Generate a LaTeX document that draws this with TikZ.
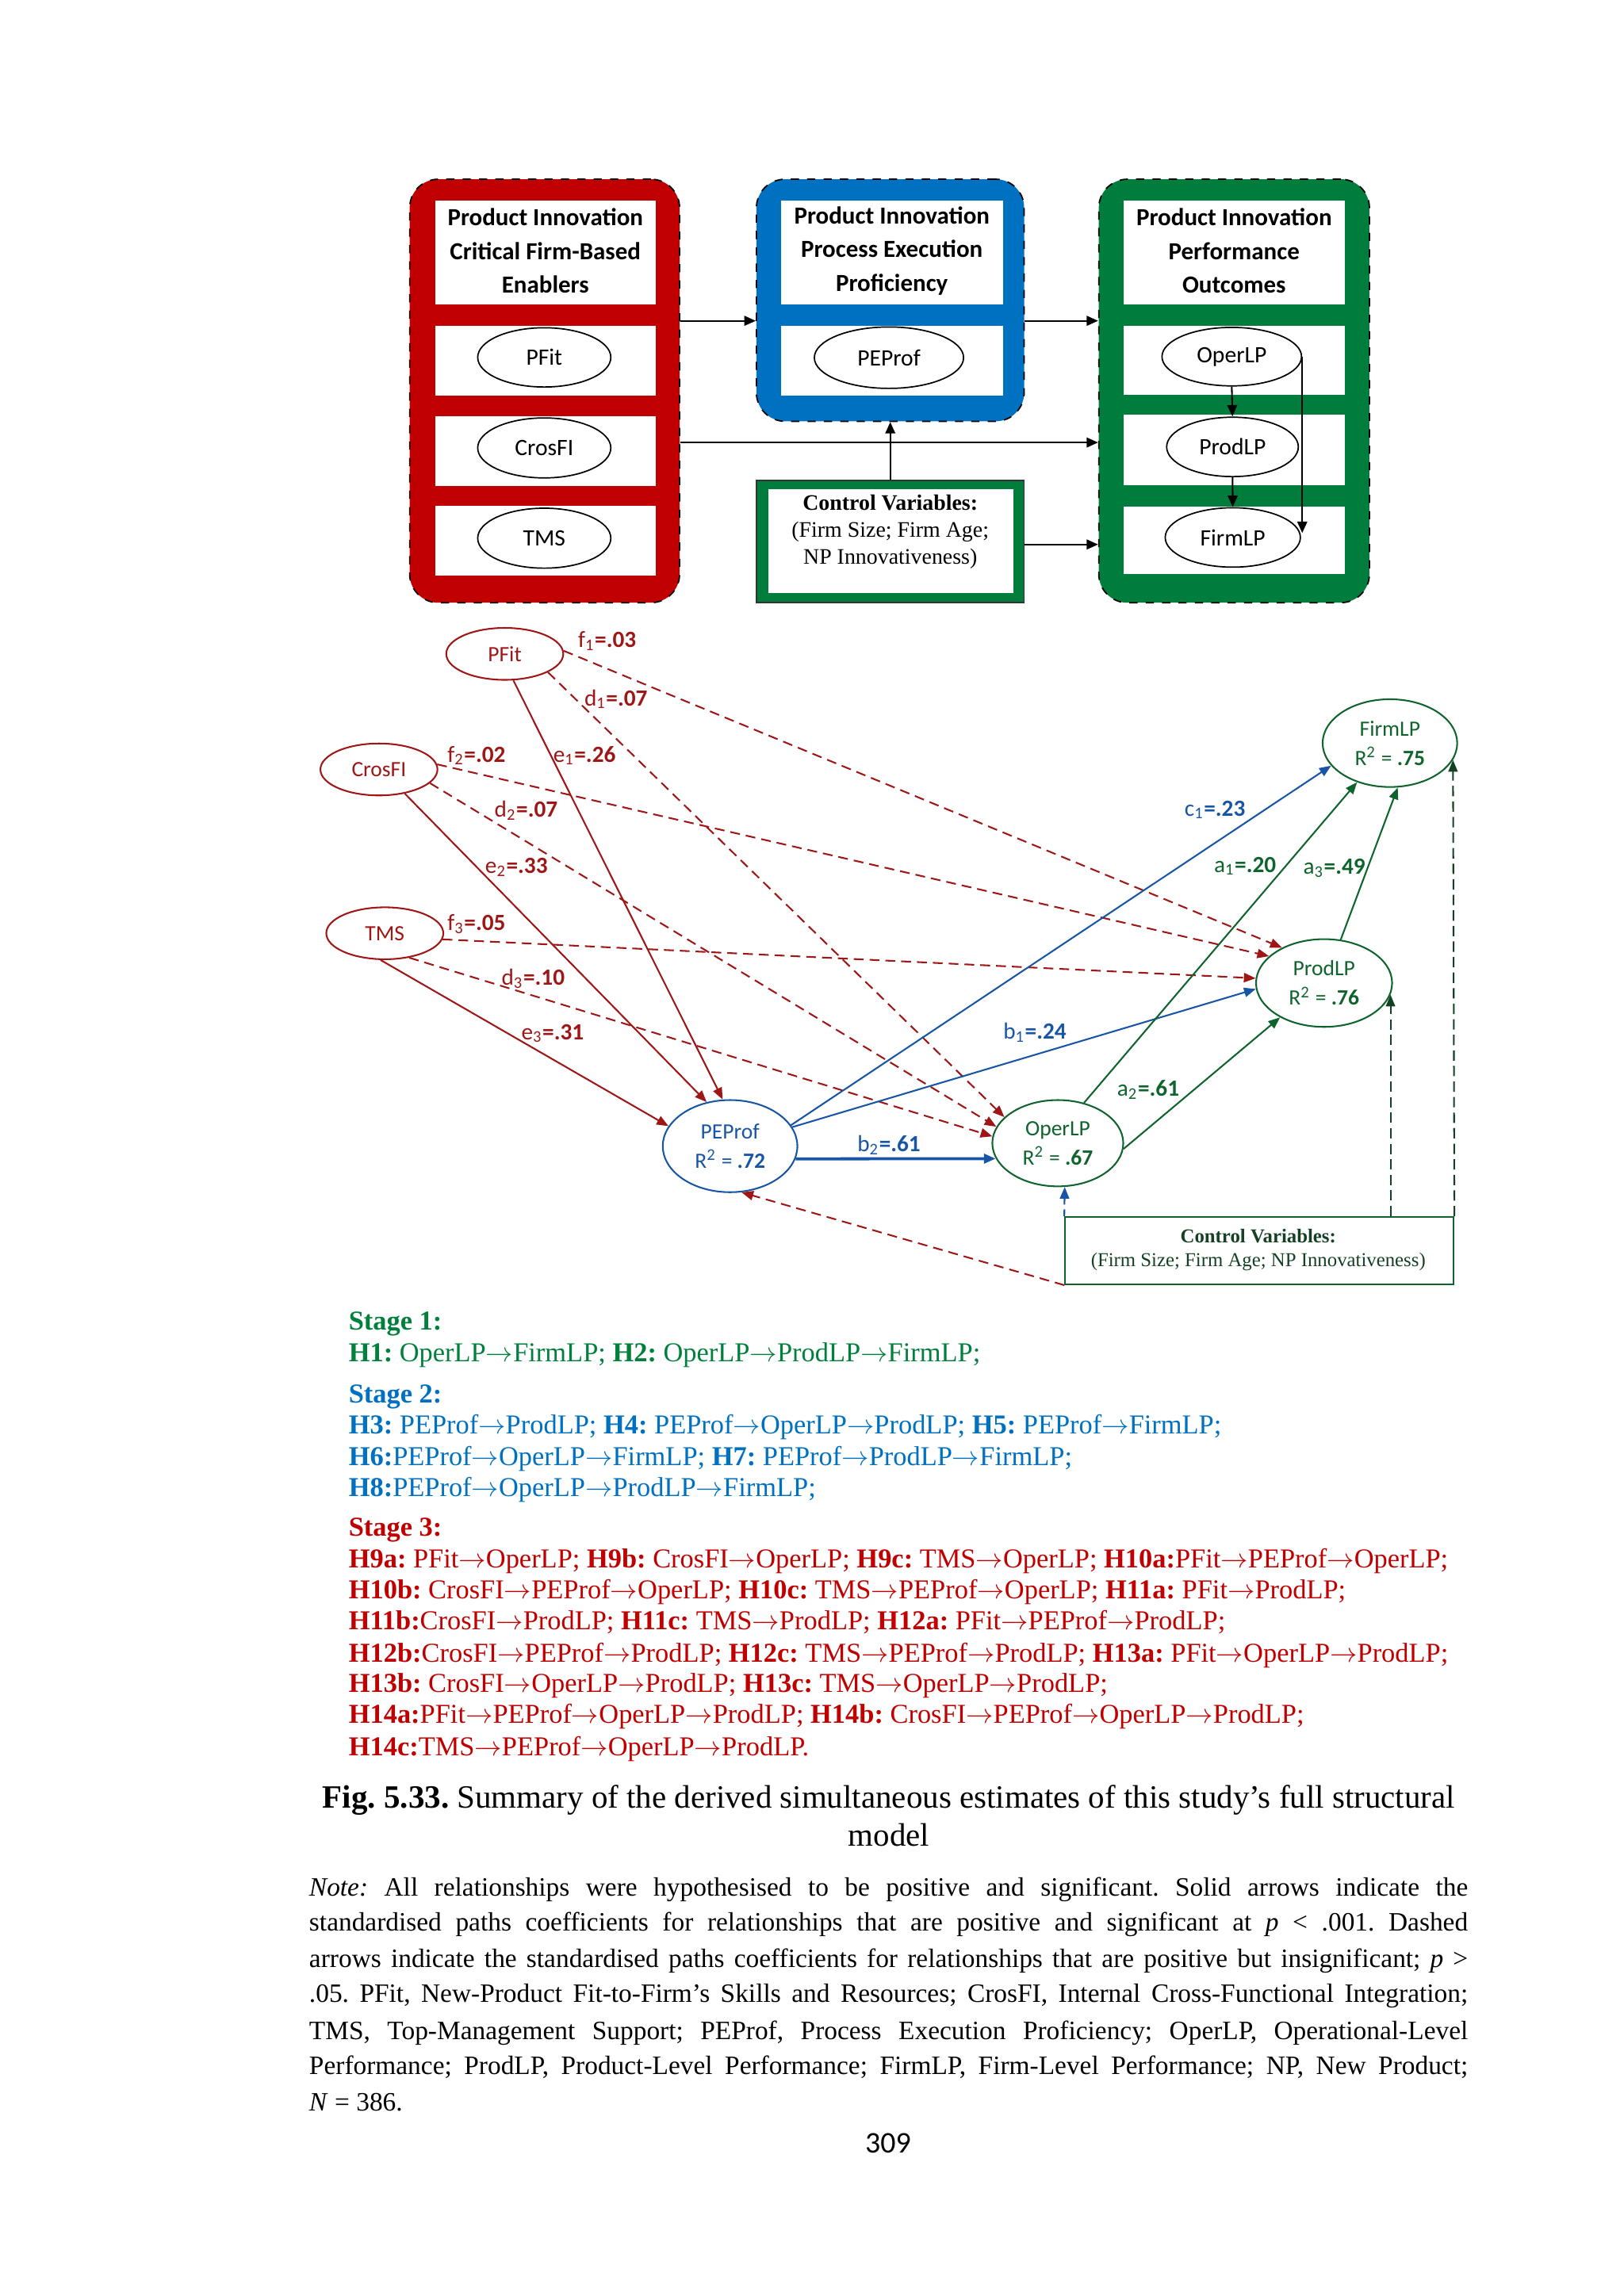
\documentclass[tikz,border=0pt]{standalone}
\usepackage{fontspec}
\setmainfont{Liberation Serif}
\newfontfamily\calib{Carlito}
\usetikzlibrary{arrows.meta,shapes.geometric,calc}
\newlength\dunit \setlength\dunit{0.536pt}
\definecolor{boxred}{RGB}{192,0,0}
\definecolor{boxblue}{RGB}{0,112,192}
\definecolor{boxgreen}{RGB}{0,125,60}
\definecolor{semred}{RGB}{158,22,22}
\definecolor{semblue}{RGB}{25,85,165}
\definecolor{semgreen}{RGB}{15,100,45}
\definecolor{ctrlgreen}{RGB}{20,65,35}
\definecolor{txtgreen}{RGB}{0,128,60}
\definecolor{txtblue}{RGB}{0,112,192}
\definecolor{txtred}{RGB}{192,0,0}
\newcommand\hypfont{\fontsize{10}{12}\selectfont}
\newcommand\notefont{\fontsize{9.7}{12}\selectfont}
\newcommand\ar{$\rightarrow$}
\frenchspacing
\begin{document}
\begin{tikzpicture}[x=0.536pt,y=-0.536pt,
  stagebox/.style={draw=black,dashed,line width=0.5pt,rounded corners=10.5pt,inner sep=0},
  panel/.style={fill=white,draw=none,inner sep=0},
  hdr/.style={align=center,font=\calib\bfseries\fontsize{9}{12.3}\selectfont},
  topell/.style={ellipse,draw=black,line width=0.5pt,fill=white,inner sep=0,font=\calib\fontsize{8.6}{10}\selectfont},
  toparrow/.style={-{Triangle[length=4.2pt,width=3.6pt]},line width=0.6pt,black},
  semell/.style={ellipse,line width=0.6pt,inner sep=0,align=center,font=\calib\fontsize{8}{10.7}\selectfont},
  semtip/.style={-{Triangle[length=4.3pt,width=3.4pt]}},
  semsolid/.style={semtip,line width=0.6pt},
  semdash/.style={semtip,line width=0.6pt,semred,dash pattern=on 3.6pt off 2.2pt},
  ctrldash/.style={semtip,line width=0.6pt,ctrlgreen,dash pattern=on 3.8pt off 1.9pt},
  lbl/.style={inner sep=0,font=\calib\fontsize{8.5}{10}\selectfont},
  hyp/.style={anchor=base west,inner sep=0,font=\hypfont},
  noteline/.style={anchor=base west,inner sep=0,font=\notefont}
]
\useasboundingbox (0,0) rectangle (1110,1569.6);

% ---------------- top conceptual model ----------------
\node[stagebox,fill=boxred,minimum width=184.5\dunit,minimum height=289.5\dunit] (redbox) at (372.25,267.25) {};
\node[stagebox,fill=boxblue,minimum width=183\dunit,minimum height=165.5\dunit] (bluebox) at (608.5,205.25) {};
\node[stagebox,fill=boxgreen,minimum width=185\dunit,minimum height=289.5\dunit] (greenbox) at (843.5,267.25) {};

% red panels
\node[panel,minimum width=150.5\dunit,minimum height=71\dunit] (rhead) at (372.75,172.5) {};
\node[hdr] (rheadt) at (372.75,171.5) {Product Innovation\\Critical Firm-Based\\Enablers};
\node[panel,minimum width=150.5\dunit,minimum height=47.5\dunit] (rp1) at (372.75,246.75) {};
\node[panel,minimum width=150.5\dunit,minimum height=47.5\dunit] (rp2) at (372.75,308.25) {};
\node[panel,minimum width=150.5\dunit,minimum height=47.5\dunit] (rp3) at (372.75,369.75) {};
\node[topell,minimum width=91\dunit,minimum height=40.5\dunit] (tPFit) at (372,244.3) {PFit};
\node[topell,minimum width=91\dunit,minimum height=41\dunit] (tCros) at (372,306.2) {CrosFI};
\node[topell,minimum width=91\dunit,minimum height=41\dunit] (tTMS) at (372,367.9) {TMS};

% blue panels
\node[panel,minimum width=151.8\dunit,minimum height=71\dunit] (bhead) at (609.6,172.5) {};
\node[hdr] (bheadt) at (609.6,171.5) {Product Innovation\\Process Execution\\Proficiency};
\node[panel,minimum width=151.8\dunit,minimum height=47.6\dunit] (bp1) at (609.6,246.8) {};
\node[topell,minimum width=102\dunit,minimum height=42\dunit] (tPE) at (607.6,244.5) {PEProf};

% green panels
\node[panel,minimum width=151\dunit,minimum height=71\dunit] (ghead) at (843.5,172.5) {};
\node[hdr] (gheadt) at (843.5,171.5) {Product Innovation\\Performance\\Outcomes};
\node[panel,minimum width=151\dunit,minimum height=47\dunit] (gp1) at (843.5,246.5) {};
\node[panel,minimum width=151\dunit,minimum height=48\dunit] (gp2) at (843.5,307.7) {};
\node[panel,minimum width=151\dunit,minimum height=46\dunit] (gp3) at (843.5,369.5) {};
\node[topell,minimum width=95.4\dunit,minimum height=40\dunit] (tOper) at (841.9,243.8) {OperLP};
\node[topell,minimum width=90\dunit,minimum height=40.6\dunit] (tProd) at (842.4,305.5) {ProdLP};
\node[topell,minimum width=92.4\dunit,minimum height=40.6\dunit] (tFirm) at (842.6,367.4) {FirmLP};

% control box (top)
\node[draw=black!80,line width=0.4pt,fill=boxgreen,minimum width=183\dunit,minimum height=83.5\dunit,inner sep=0] (ctrltop) at (608.5,370.25) {};
\node[panel,minimum width=167\dunit,minimum height=71\dunit] (ctrltopin) at (608.9,370.15) {};
\node[align=center,inner sep=0,font=\fontsize{8.1}{9.9}\selectfont] (ctrltopt) at (608.5,363.5) {\textbf{Control Variables:}\\(Firm Size; Firm Age;\\NP Innovativeness)};

% top arrows
\coordinate (ay) at (0,219.3);
\coordinate (cy) at (0,302.5);
\coordinate (ey) at (0,372.2);
\draw[toparrow] (redbox.east |- ay) -- (bluebox.west |- ay);
\draw[toparrow] (bluebox.east |- ay) -- (greenbox.west |- ay);
\draw[toparrow] (redbox.east |- cy) -- (greenbox.west |- cy);
\draw[toparrow] (ctrltop.north) -- (bluebox.south);
\draw[toparrow] (ctrltop.east |- ey) -- (greenbox.west |- ey);
\draw[toparrow] (tOper.south) -- (tProd.north);
\draw[toparrow] (tProd.south) -- (tFirm.north);
\draw[toparrow] (tOper.east) -- ($(tOper.east |- tFirm.east)+(0,-3)$);

% ---------------- structural model ----------------
\node[semell,draw=semred,text=semred,minimum width=80\dunit,minimum height=35.5\dunit] (sPFit) at (345,447) {PFit};
\node[semell,draw=semred,text=semred,minimum width=80\dunit,minimum height=35.5\dunit] (sCros) at (259,526) {CrosFI};
\node[semell,draw=semred,text=semred,minimum width=80\dunit,minimum height=35.5\dunit] (sTMS) at (263,638) {TMS};
\node[semell,draw=semblue,text=semblue,minimum width=92\dunit,minimum height=63\dunit] (sPE) at (499,783.5) {PEProf\\R\textsuperscript{2} = \textbf{.72}};
\node[semell,draw=semgreen,text=semgreen,minimum width=89.5\dunit,minimum height=59\dunit] (sOper) at (723,781.5) {OperLP\\R\textsuperscript{2} = \textbf{.67}};
\node[semell,draw=semgreen,text=semgreen,minimum width=93\dunit,minimum height=60\dunit] (sProd) at (905,672) {ProdLP\\R\textsuperscript{2} = \textbf{.76}};
\node[semell,draw=semgreen,text=semgreen,minimum width=92\dunit,minimum height=60\dunit] (sFirm) at (950,508) {FirmLP\\R\textsuperscript{2} = \textbf{.75}};

\node[draw=semgreen,line width=0.6pt,minimum width=265.5\dunit,minimum height=46\dunit,inner sep=0] (ctrl) at (860.75,855) {};
\node[align=center,inner sep=0,text=ctrlgreen,font=\fontsize{7.2}{8.7}\selectfont] (ctrlt) at (860,854.6) {\textbf{Control Variables:}\\(Firm Size; Firm Age; NP Innovativeness)};

% red paths
\draw[semsolid,semred] (sPFit.-72) -- (sPE.99);
\draw[semsolid,semred] (sCros.-43) -- (sPE.118);
\draw[semsolid,semred] (sTMS.-99) -- (sPE.162);
\draw[semdash] (sPFit.-23) -- (sOper.154);
\draw[semdash] (sCros.-15) -- (sOper.165);
\draw[semdash] (sTMS.-45) -- (sOper.174);
\draw[semdash] (sPFit.3) -- (sProd.140);
\draw[semdash] (sCros.5) -- (sProd.154);
\draw[semdash] (sTMS.-6) -- (sProd.176);
% blue paths
\draw[semsolid,semblue] (sPE.19) -- (sFirm.201);
\draw[semsolid,semblue] (sPE.17) -- (sProd.185);
\draw[semsolid,semblue,line width=1.1pt] (sPE.-11) -- (sOper.-166);
% green paths
\draw[semsolid,semgreen] (sOper.57) -- (sFirm.230);
\draw[semsolid,semgreen] (sOper.-5) -- (sProd.218);
\draw[semsolid,semgreen] (sProd.69) -- (sFirm.-80);
% control paths
\draw[semdash] (ctrl.south west) -- (sPE.-76);
\draw[semtip,line width=0.6pt,semblue,dash pattern=on 2.5pt off 1.8pt] (ctrl.north west) -- (sOper.-81);
\draw[ctrldash] (sProd.-10 |- ctrl.north) -- (sProd.-10);
\draw[ctrldash] (ctrl.north east) -- (sFirm.-15);

% labels
\node[lbl,text=semred] (lf1) at (415,438) {f\textsubscript{1}\textbf{=.03}};
\node[lbl,text=semred] (ld1) at (421,478) {d\textsubscript{1}\textbf{=.07}};
\node[lbl,text=semred] (le1) at (399.5,516.5) {e\textsubscript{1}\textbf{=.26}};
\node[lbl,text=semred] (lf2) at (325.7,516.5) {f\textsubscript{2}\textbf{=.02}};
\node[lbl,text=semred] (ld2) at (359.6,554) {d\textsubscript{2}\textbf{=.07}};
\node[lbl,text=semred] (le2) at (353,593) {e\textsubscript{2}\textbf{=.33}};
\node[lbl,text=semred] (lf3) at (325.7,631.5) {f\textsubscript{3}\textbf{=.05}};
\node[lbl,text=semred] (ld3) at (364.4,669) {d\textsubscript{3}\textbf{=.10}};
\node[lbl,text=semred] (le3) at (377.7,706.5) {e\textsubscript{3}\textbf{=.31}};
\node[lbl,text=semblue] (lc1) at (830.4,553.5) {c\textsubscript{1}\textbf{=.23}};
\node[lbl,text=semblue] (lb1) at (707.3,706) {b\textsubscript{1}\textbf{=.24}};
\node[lbl,text=semblue] (lb2) at (607.6,783) {b\textsubscript{2}\textbf{=.61}};
\node[lbl,text=semgreen] (la1) at (851,592) {a\textsubscript{1}\textbf{=.20}};
\node[lbl,text=semgreen] (la3) at (912,593.5) {a\textsubscript{3}\textbf{=.49}};
\node[lbl,text=semgreen] (la2) at (784.8,745) {a\textsubscript{2}\textbf{=.61}};

% ---------------- hypotheses ----------------
\node[hyp,text=txtgreen] (st1) at (238,909) {\textbf{Stage 1:}};
\node[hyp,text=txtgreen] (h1) at (238,931) {\textbf{H1:} OperLP\ar FirmLP; \textbf{H2:} OperLP\ar ProdLP\ar FirmLP;};
\node[hyp,text=txtblue] (st2) at (238,959) {\textbf{Stage 2:}};
\node[hyp,text=txtblue] (h3) at (238,980) {\textbf{H3:} PEProf\ar ProdLP; \textbf{H4:} PEProf\ar OperLP\ar ProdLP; \textbf{H5:} PEProf\ar FirmLP;};
\node[hyp,text=txtblue] (h6) at (238,1002) {\textbf{H6:}PEProf\ar OperLP\ar FirmLP; \textbf{H7:} PEProf\ar ProdLP\ar FirmLP;};
\node[hyp,text=txtblue] (h8) at (238,1023) {\textbf{H8:}PEProf\ar OperLP\ar ProdLP\ar FirmLP;};
\node[hyp,text=txtred] (st3) at (238,1050) {\textbf{Stage 3:}};
\node[hyp,text=txtred] (h9) at (238,1072) {\textbf{H9a:} PFit\ar OperLP; \textbf{H9b:} CrosFI\ar OperLP; \textbf{H9c:} TMS\ar OperLP; \textbf{H10a:}PFit\ar PEProf\ar OperLP;};
\node[hyp,text=txtred] (h10) at (238,1093) {\textbf{H10b:} CrosFI\ar PEProf\ar OperLP; \textbf{H10c:} TMS\ar PEProf\ar OperLP; \textbf{H11a:} PFit\ar ProdLP;};
\node[hyp,text=txtred] (h11) at (238,1114) {\textbf{H11b:}CrosFI\ar ProdLP; \textbf{H11c:} TMS\ar ProdLP; \textbf{H12a:} PFit\ar PEProf\ar ProdLP;};
\node[hyp,text=txtred] (h12) at (238,1136) {\textbf{H12b:}CrosFI\ar PEProf\ar ProdLP; \textbf{H12c:} TMS\ar PEProf\ar ProdLP; \textbf{H13a:} PFit\ar OperLP\ar ProdLP;};
\node[hyp,text=txtred] (h13) at (238,1157) {\textbf{H13b:} CrosFI\ar OperLP\ar ProdLP; \textbf{H13c:} TMS\ar OperLP\ar ProdLP;};
\node[hyp,text=txtred] (h14) at (238,1178) {\textbf{H14a:}PFit\ar PEProf\ar OperLP\ar ProdLP; \textbf{H14b:} CrosFI\ar PEProf\ar OperLP\ar ProdLP;};
\node[hyp,text=txtred] (h14c) at (238,1200) {\textbf{H14c:}TMS\ar PEProf\ar OperLP\ar ProdLP.};

% ---------------- caption & note ----------------
\node[anchor=base,inner sep=0,font=\fontsize{11.9}{14}\selectfont] (cap1) at (607.5,1236) {\textbf{Fig. 5.33.} Summary of the derived simultaneous estimates of this study’s full structural};
\node[anchor=base,inner sep=0,font=\fontsize{11.9}{14}\selectfont] (cap2) at (607.5,1262) {model};

\node[noteline] (n1) at (211,1296) {\makebox[792\dunit][s]{\textit{Note:} All relationships were hypothesised to be positive and significant. Solid arrows indicate the}};
\node[noteline] (n2) at (211,1320) {\makebox[792\dunit][s]{standardised paths coefficients for relationships that are positive and significant at \textit{p} < .001. Dashed}};
\node[noteline] (n3) at (211,1345) {\makebox[792\dunit][s]{arrows indicate the standardised paths coefficients for relationships that are positive but insignificant; \textit{p} >}};
\node[noteline] (n4) at (211,1369) {\makebox[792\dunit][s]{.05. PFit, New-Product Fit-to-Firm’s Skills and Resources; CrosFI, Internal Cross-Functional Integration;}};
\node[noteline] (n5) at (211,1394) {\makebox[792\dunit][s]{TMS, Top-Management Support; PEProf, Process Execution Proficiency; OperLP, Operational-Level}};
\node[noteline] (n6) at (211,1418) {\makebox[792\dunit][s]{Performance; ProdLP, Product-Level Performance; FirmLP, Firm-Level Performance; NP, New Product;}};
\node[noteline] (n7) at (211,1443) {\textit{N} = 386.};

\node[inner sep=0,font=\calib\fontsize{11}{13}\selectfont] (pg) at (607,1465) {309};
\end{tikzpicture}
\end{document}
